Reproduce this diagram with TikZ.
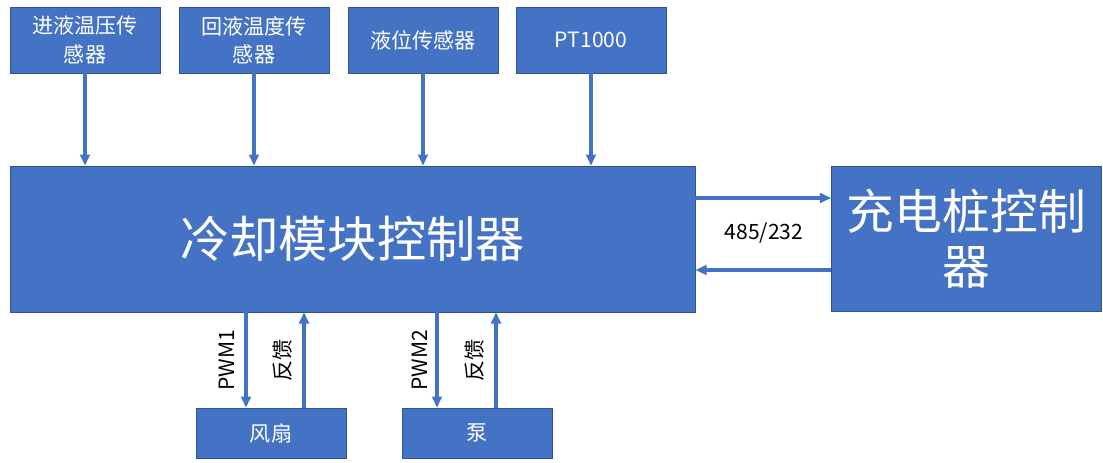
\documentclass[tikz,border=0pt]{standalone}
\usepackage{fontspec}
\setmainfont{Noto Sans CJK SC}
\usetikzlibrary{arrows.meta,calc}
\definecolor{boxblue}{HTML}{4472C4}
\definecolor{edgeblue}{HTML}{2F528F}
\tikzset{
  blk/.style={draw=edgeblue, line width=0.4pt, fill=boxblue, text=white, align=center, inner sep=0pt},
  sensor/.style={blk, minimum width=3.75cm, minimum height=1.65cm, font=\fontsize{15}{20}\selectfont},
  arr/.style={boxblue, line width=2.6pt, -{Triangle[length=0.28cm,width=0.24cm]}},
  lbl/.style={font=\fontsize{15}{18}\selectfont, text=black}
}
\begin{document}
\begin{tikzpicture}[x=0.025cm,y=-0.025cm]
\useasboundingbox (0,0) rectangle (1103,462);

% sensors
\node[sensor] (s1) at (85,40) {进液温压传\\感器};
\node[sensor] (s2) at (254,40) {回液温度传\\感器};
\node[sensor] (s3) at (423,40) {液位传感器};
\node[sensor] (s4) at (591,40) {PT1000};

% controllers
\node[blk, minimum width=17.125cm, minimum height=3.65cm, font=\fontsize{35}{40}\selectfont] (main) at (352.5,239) {冷却模块控制器};
\node[blk, minimum width=6.75cm, minimum height=3.625cm, font=\fontsize{34}{39}\selectfont] (pile) at (966.5,238.5) {充电桩控制\\器};

% actuators
\node[blk, minimum width=3.75cm, minimum height=1.25cm, font=\fontsize{15}{18}\selectfont] (fan) at (271,433) {风扇};
\node[blk, minimum width=3.75cm, minimum height=1.25cm, font=\fontsize{15}{18}\selectfont] (pump) at (477,433) {泵};

\draw[arr] (s1) -- (s1 |- main.north);
\draw[arr] (s2) -- (s2 |- main.north);
\draw[arr] (s3) -- (s3 |- main.north);
\draw[arr] (s4) -- (s4 |- main.north);

% 485/232 link
\coordinate (tx) at (0,198);
\coordinate (rx) at (0,270);
\draw[arr] (main.east |- tx) -- (pile.west |- tx);
\draw[arr] (pile.west |- rx) -- (main.east |- rx);
\node[lbl] (bus) at (764,233) {485/232};

% pwm and feedback
\coordinate (fanin) at ([xshift=-0.625cm]fan.north);
\coordinate (fanout) at ([xshift=0.825cm]fan.north);
\coordinate (pumpin) at ([xshift=-1cm]pump.north);
\coordinate (pumpout) at ([xshift=0.475cm]pump.north);
\draw[arr] (main.south -| fanin) -- (fanin);
\draw[arr] (fanout) -- (main.south -| fanout);
\draw[arr] (main.south -| pumpin) -- (pumpin);
\draw[arr] (pumpout) -- (main.south -| pumpout);

\node[lbl, rotate=90] (pwmA) at (227,360) {PWM1};
\node[lbl, rotate=90] (fbA) at (283,360) {反馈};
\node[lbl, rotate=90] (pwmB) at (420,360) {PWM2};
\node[lbl, rotate=90] (fbB) at (475,360) {反馈};

\end{tikzpicture}
\end{document}
